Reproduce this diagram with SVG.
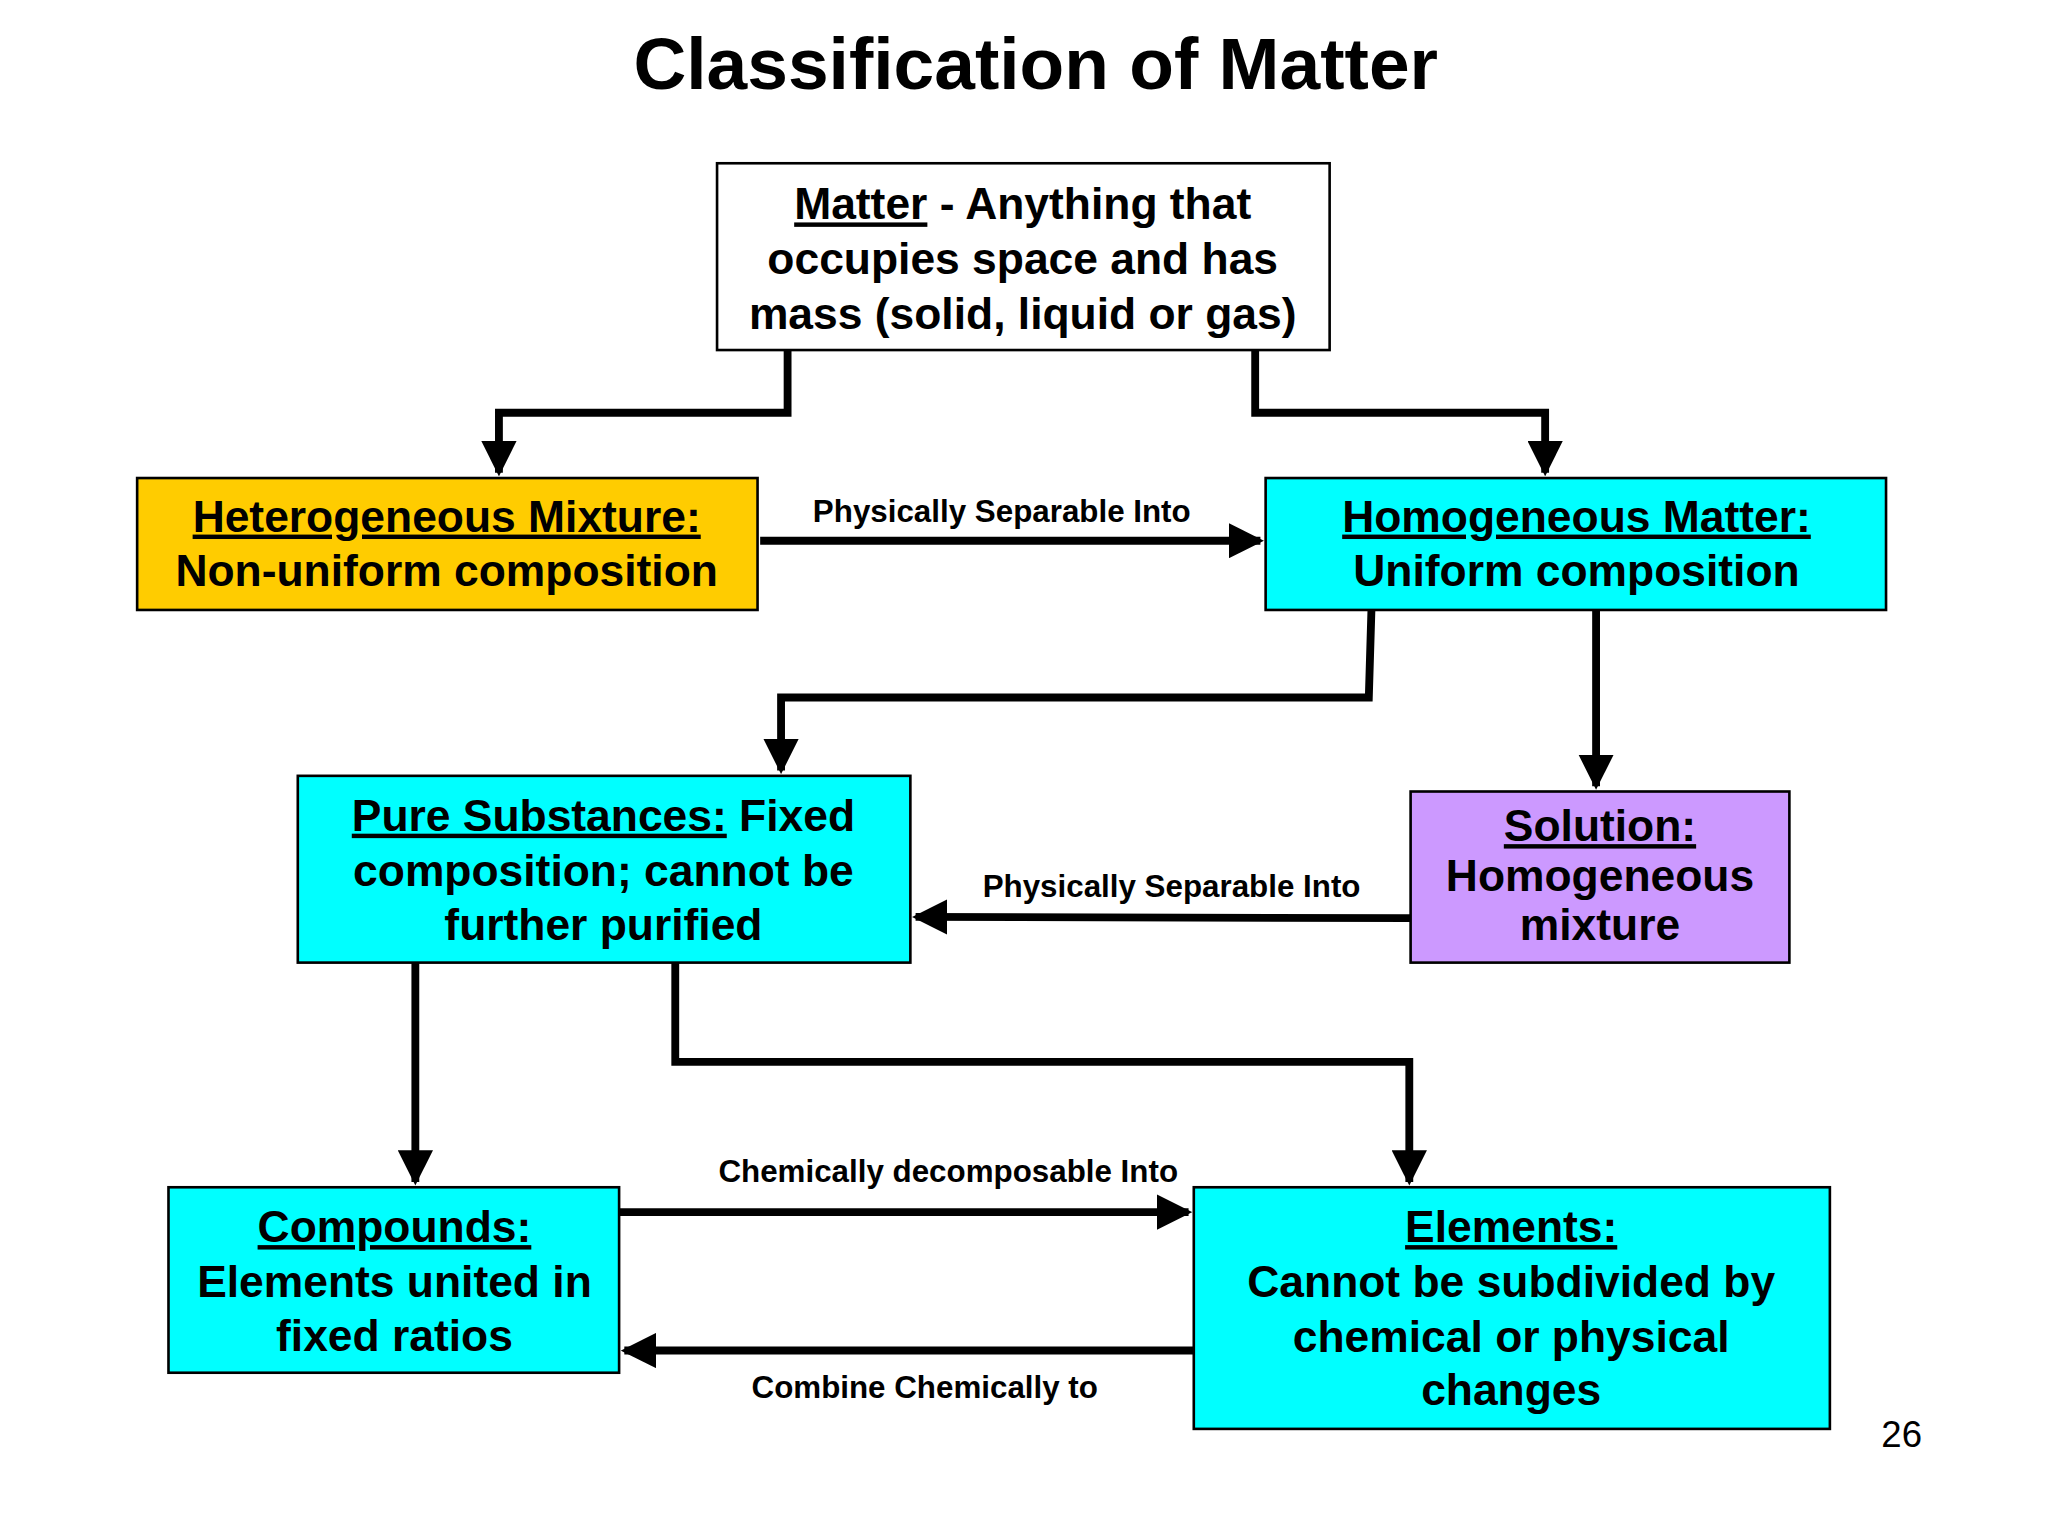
<svg xmlns="http://www.w3.org/2000/svg" width="2048" height="1536" viewBox="0 0 2048 1536">
<defs>
<style>
text{font-family:"Liberation Sans",Arial,sans-serif;font-weight:bold;fill:#000;text-anchor:middle}
.n{font-size:34px}
.l{font-size:24px}
.u{text-decoration:underline}
.box{stroke:#000;stroke-width:2}
.c{fill:none;stroke:#000;stroke-width:6;marker-end:url(#ah)}
</style>
<marker id="ah" viewBox="0 0 10 10" refX="9" refY="5" markerWidth="4.5" markerHeight="4.5" orient="auto" markerUnits="strokeWidth"><path d="M0,0L10,5L0,10z" fill="#000"/></marker>
</defs>
<rect width="2048" height="1536" fill="#fff"/>
<g transform="scale(1.30612)">
<text x="793" y="68" style="font-size:56px">Classification of Matter</text>
<g id="connectors">
<path class="c" d="M603,268V316H382V362"/>
<path class="c" d="M961,268V316H1183V362"/>
<path class="c" d="M582,414H965"/>
<path class="c" d="M1050,467L1048,534H598V590"/>
<path class="c" d="M1222,467V602"/>
<path class="c" d="M1080,703L701,702"/>
<path class="c" d="M318,737V905"/>
<path class="c" d="M517,737V813H1079V905"/>
<path class="c" d="M474,928H910"/>
<path class="c" d="M914,1034H478"/>
<text class="l" x="767" y="400">Physically Separable Into</text>
<text class="l" x="897" y="687">Physically Separable Into</text>
<text class="l" x="726" y="905">Chemically decomposable Into</text>
<text class="l" x="708" y="1070">Combine Chemically to</text>
</g>
<g id="matter"><rect class="box" x="549" y="125" width="469" height="143" fill="#fff"/>
<text class="n" x="783" y="168"><tspan class="u">Matter</tspan> - Anything that</text>
<text class="n" x="783" y="210">occupies space and has</text>
<text class="n" x="783" y="252">mass (solid, liquid or gas)</text></g>
<g id="hetero"><rect class="box" x="105" y="366" width="475" height="101" fill="#FFCC00"/>
<text class="n u" x="342" y="407">Heterogeneous Mixture:</text>
<text class="n" x="342" y="449">Non-uniform composition</text></g>
<g id="homo"><rect class="box" x="969" y="366" width="475" height="101" fill="#00FFFF"/>
<text class="n u" x="1207" y="407">Homogeneous Matter:</text>
<text class="n" x="1207" y="449">Uniform composition</text></g>
<g id="pure"><rect class="box" x="228" y="594" width="469" height="143" fill="#00FFFF"/>
<text class="n" x="462" y="636"><tspan class="u">Pure Substances:</tspan>  Fixed</text>
<text class="n" x="462" y="678">composition; cannot be</text>
<text class="n" x="462" y="720">further purified</text></g>
<g id="solution"><rect class="box" x="1080" y="606" width="290" height="131" fill="#CC99FF"/>
<text class="n u" x="1225" y="644">Solution:</text>
<text class="n" x="1225" y="682">Homogeneous</text>
<text class="n" x="1225" y="720">mixture</text></g>
<g id="compounds"><rect class="box" x="129" y="909" width="345" height="142" fill="#00FFFF"/>
<text class="n u" x="302" y="951">Compounds:</text>
<text class="n" x="302" y="993">Elements united in</text>
<text class="n" x="302" y="1034">fixed ratios</text></g>
<g id="elements"><rect class="box" x="914" y="909" width="487" height="185" fill="#00FFFF"/>
<text class="n u" x="1157" y="951">Elements:</text>
<text class="n" x="1157" y="993">Cannot be subdivided by</text>
<text class="n" x="1157" y="1035">chemical or physical</text>
<text class="n" x="1157" y="1076">changes</text></g>
<text x="1456" y="1108" style="font-size:28px;font-weight:normal">26</text>
</g>
</svg>
